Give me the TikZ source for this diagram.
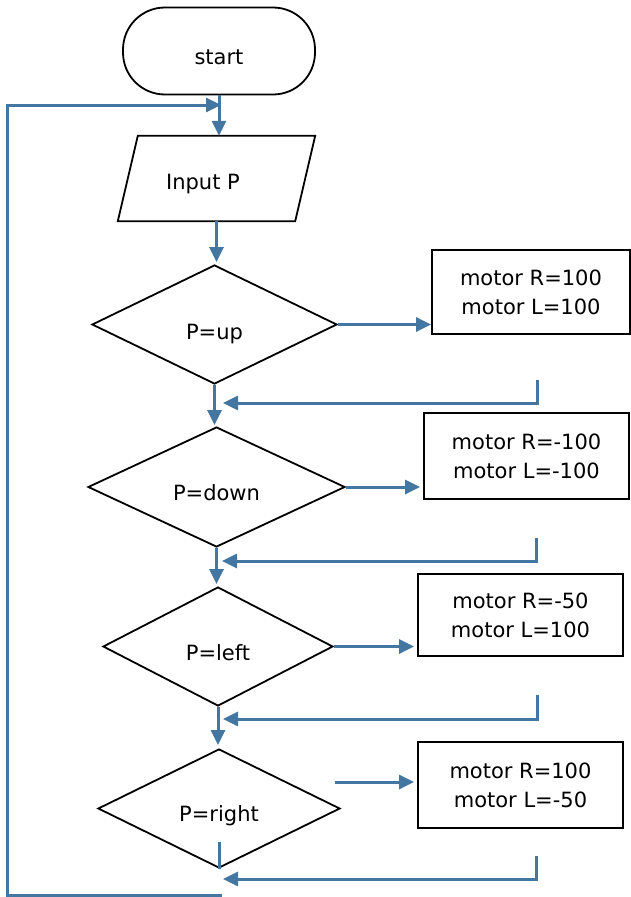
\documentclass[tikz,border=0pt]{standalone}
\usepackage{fontspec}
\setmainfont{DejaVu Sans}
\usepackage{tikz}
\usetikzlibrary{arrows.meta}
\usetikzlibrary{shapes.geometric}

\definecolor{flowblue}{RGB}{68,118,162}

\begin{document}
\begin{tikzpicture}[x=1pt,y=-1pt,
        font=\fontsize{21}{29}\selectfont,
        terminal/.style={draw=black,line width=1.8pt,rectangle,rounded corners=42pt,
            minimum width=192pt,minimum height=87pt,inner sep=0pt},
        iobox/.style={rectangle,inner sep=0pt,minimum width=197pt,minimum height=85pt},
        decision/.style={draw=black,line width=1.8pt,diamond,inner sep=0pt},
        process/.style={draw=black,line width=1.8pt,rectangle,inner sep=0pt,align=center}]
        \useasboundingbox (0,0) rectangle (631,897);

        \node[terminal,label={[yshift=-6pt]center:start}] (start) at (219,51) {};
        \node[iobox,label={[xshift=-13.5pt,yshift=-5.5pt]center:Input P}] (input) at (216.5,178.5) {};
        \draw[black,line width=1.8pt] ([xshift=20pt]input.north west) -- (input.north east)
            -- ([xshift=-20pt]input.south east) -- (input.south west) -- cycle;

        \node[decision,minimum width=245pt,minimum height=119pt,label={[yshift=-10pt]center:P=up}]   (up)    at (214.5,324.5) {};
        \node[decision,minimum width=257pt,minimum height=120pt,label={[yshift=-6pt]center:P=down}]  (down)  at (216.5,487)   {};
        \node[decision,minimum width=230pt,minimum height=119pt,label={[yshift=-6pt]center:P=left}]  (left)  at (218,646.5)   {};
        \node[decision,minimum width=242pt,minimum height=119pt,label={[yshift=-7pt]center:P=right}] (right) at (219,808.5)   {};

        \node[process,minimum width=198pt,minimum height=84pt] (mup)    at (531,292)   {motor R=100\\motor L=100};
        \node[process,minimum width=205pt,minimum height=86pt] (mdown)  at (526.5,456)  {motor R=-100\\motor L=-100};
        \node[process,minimum width=205pt,minimum height=82pt] (mleft)  at (520.5,615)  {motor R=-50\\motor L=100};
        \node[process,minimum width=205pt,minimum height=86pt] (mright) at (520.5,785)  {motor R=100\\motor L=-50};

        \coordinate (join)   at (221,105);
        \coordinate (loopNW) at (7,105);
        \coordinate (loopSW) at (7,895);
        \coordinate (loopE)  at (222,895);
        \coordinate (rfree)  at (335,782);
        \coordinate (rcut)   at (219,842);
        \coordinate (back1)  at (537,380);
        \coordinate (back2)  at (536,538);
        \coordinate (back3)  at (537,695);
        \coordinate (back4)  at (536,856);
        \coordinate (to1)    at (223,403);
        \coordinate (to2)    at (222,561);
        \coordinate (to3)    at (223,719);
        \coordinate (to4)    at (223,879);

        \begin{scope}[>={Triangle[length=15pt,width=14pt]},
                draw=flowblue,line width=3pt,
                every edge/.style={draw=flowblue,line width=3pt}]
            \path [->] (start.south) edge (start.south |- input.north);
            \path [->] (input.south) edge[shorten >=2pt] (input.south |- up.north);
            \path [->] (up.south)    edge[shorten >=1pt] (up.south |- down.north);
            \path [->] (down.south)  edge[shorten >=2pt] (down.south |- left.north);
            \path [->] (left.south)  edge[shorten >=3pt] (left.south |- right.north);

            \path [->] (up.east)   edge (up.east -| mup.west);
            \path [->] (down.east) edge[shorten >=3pt] (down.east -| mdown.west);
            \path [->] (left.east) edge[shorten >=3pt] (left.east -| mleft.west);
            \path [->] (rfree)     edge[shorten >=3pt] (rfree -| mright.west);

            \draw [->] (back1) |- (to1);
            \draw [->] (back2) |- (to2);
            \draw [->] (back3) |- (to3);
            \draw [->] (back4) |- (to4);

            \draw (rcut) -- (right.south);
            \draw [->] (loopE) -- (loopSW) -- (loopNW) -- (join);
        \end{scope}
    \end{tikzpicture}
\end{document}
